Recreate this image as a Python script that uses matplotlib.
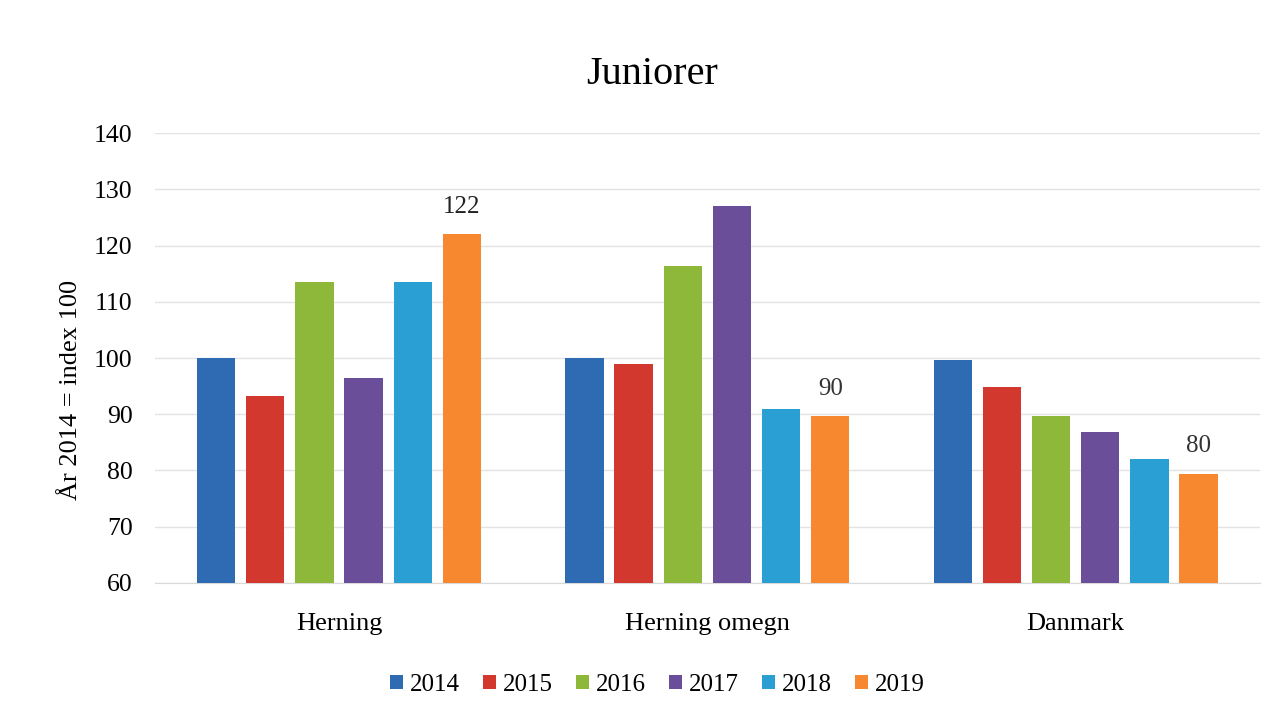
import numpy as np
import matplotlib.pyplot as plt

regions = ['Herning', 'Herning omegn', 'Danmark']
years = ['2014', '2015', '2016', '2017', '2018', '2019']
herning = [100, 93.2, 113.5, 96.5, 113.5, 122]
herning_omegn = [100, 98.9, 116.3, 127, 91, 89.6]
danmark = [99.7, 94.9, 89.6, 86.9, 82.1, 79.3]
labels_2019 = ['122', '90', '80']

colors = ['#2E6BB3', '#D2382E', '#8DB83A', '#6A4E9A', '#2A9FD4', '#F7882F']

plt.rcParams['font.family'] = ['Liberation Serif', 'DejaVu Serif']

values = np.array([herning, herning_omegn, danmark])
fig = plt.figure(figsize=(12.79, 7.24), dpi=100)
ax = fig.add_axes([0.121, 0.195, 0.864, 0.621])

x = np.arange(len(regions))
step = 0.1335
width = 0.104
for i, year in enumerate(years):
    pos = x + (i - 2.5) * step
    ax.bar(pos, values[:, i] - 60, width, bottom=60, color=colors[i], label=year, zorder=3)
    if year == '2019':
        for j in range(len(regions)):
            ax.text(pos[j], values[j, i] + 3, labels_2019[j], ha='center', va='bottom',
                    fontsize=18, color='#222222' if j == 0 else '#333333')

ax.set_ylim(60, 140)
ax.set_xlim(-0.5, 2.5)
ax.set_yticks(range(60, 141, 10))
ax.set_xticks(x)
ax.set_xticklabels(regions, fontsize=19)
ax.tick_params(axis='y', labelsize=18.5, length=0, pad=16)
ax.tick_params(axis='x', length=0, pad=22)
ax.grid(axis='y', color='#E3E3E3', linewidth=1, zorder=0)
for s in ['top', 'right', 'left']:
    ax.spines[s].set_visible(False)
ax.spines['bottom'].set_color('#D9D9D9')
ax.set_ylabel('År 2014 = index 100', fontsize=19)
ax.yaxis.set_label_coords(-0.066, 0.43)
fig.suptitle('Juniorer', fontsize=29, x=0.51, y=0.922)

fig.legend(loc='center', bbox_to_anchor=(0.514, 0.054), ncol=6, frameon=False,
           fontsize=18, handlelength=0.52, handleheight=0.52, handletextpad=0.25,
           columnspacing=0.95)

fig.savefig('out.png', dpi=100)
